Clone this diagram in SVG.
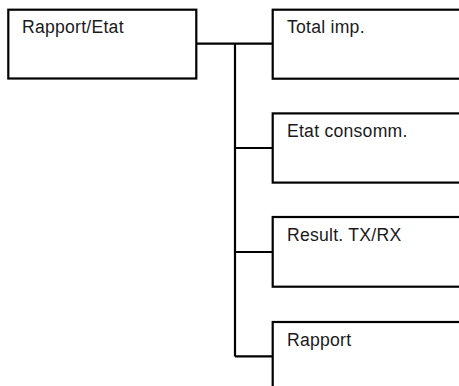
<svg xmlns="http://www.w3.org/2000/svg" width="459" height="386" viewBox="0 0 459 386">
<style>
.box{fill:#fff;stroke:#000;stroke-width:2.2}
.ln{fill:none;stroke:#000;stroke-width:2.2}
.t{font-family:"Liberation Sans",Arial,Helvetica,sans-serif;font-size:17.6px;letter-spacing:0.25px;fill:#1a1a1a}
</style>
<rect width="459" height="386" fill="#fff"/>
<g id="connectors">
<path class="ln" d="M196.3 43.6H272.7M235 43.6V356.4M235 148H272.7M235 252H272.7M235 356.4H272.7"/>
</g>
<g id="node-rapport-etat">
<rect class="box" x="8.3" y="9.7" width="188" height="68.8"/>
<text class="t" x="22" y="32.5">Rapport/Etat</text>
</g>
<g id="node-total-imp">
<rect class="box" x="272.7" y="9.7" width="220" height="69"/>
<text class="t" x="287" y="32.8">Total imp.</text>
</g>
<g id="node-etat-consomm">
<rect class="box" x="272.7" y="113.4" width="220" height="69.2"/>
<text class="t" x="287" y="137.3">Etat consomm.</text>
</g>
<g id="node-result-txrx">
<rect class="box" x="272.7" y="217" width="220" height="69.7"/>
<text class="t" x="287" y="240.8">Result. TX/RX</text>
</g>
<g id="node-rapport">
<rect class="box" x="272.7" y="322" width="220" height="80"/>
<text class="t" x="287" y="345.8">Rapport</text>
</g>
</svg>
